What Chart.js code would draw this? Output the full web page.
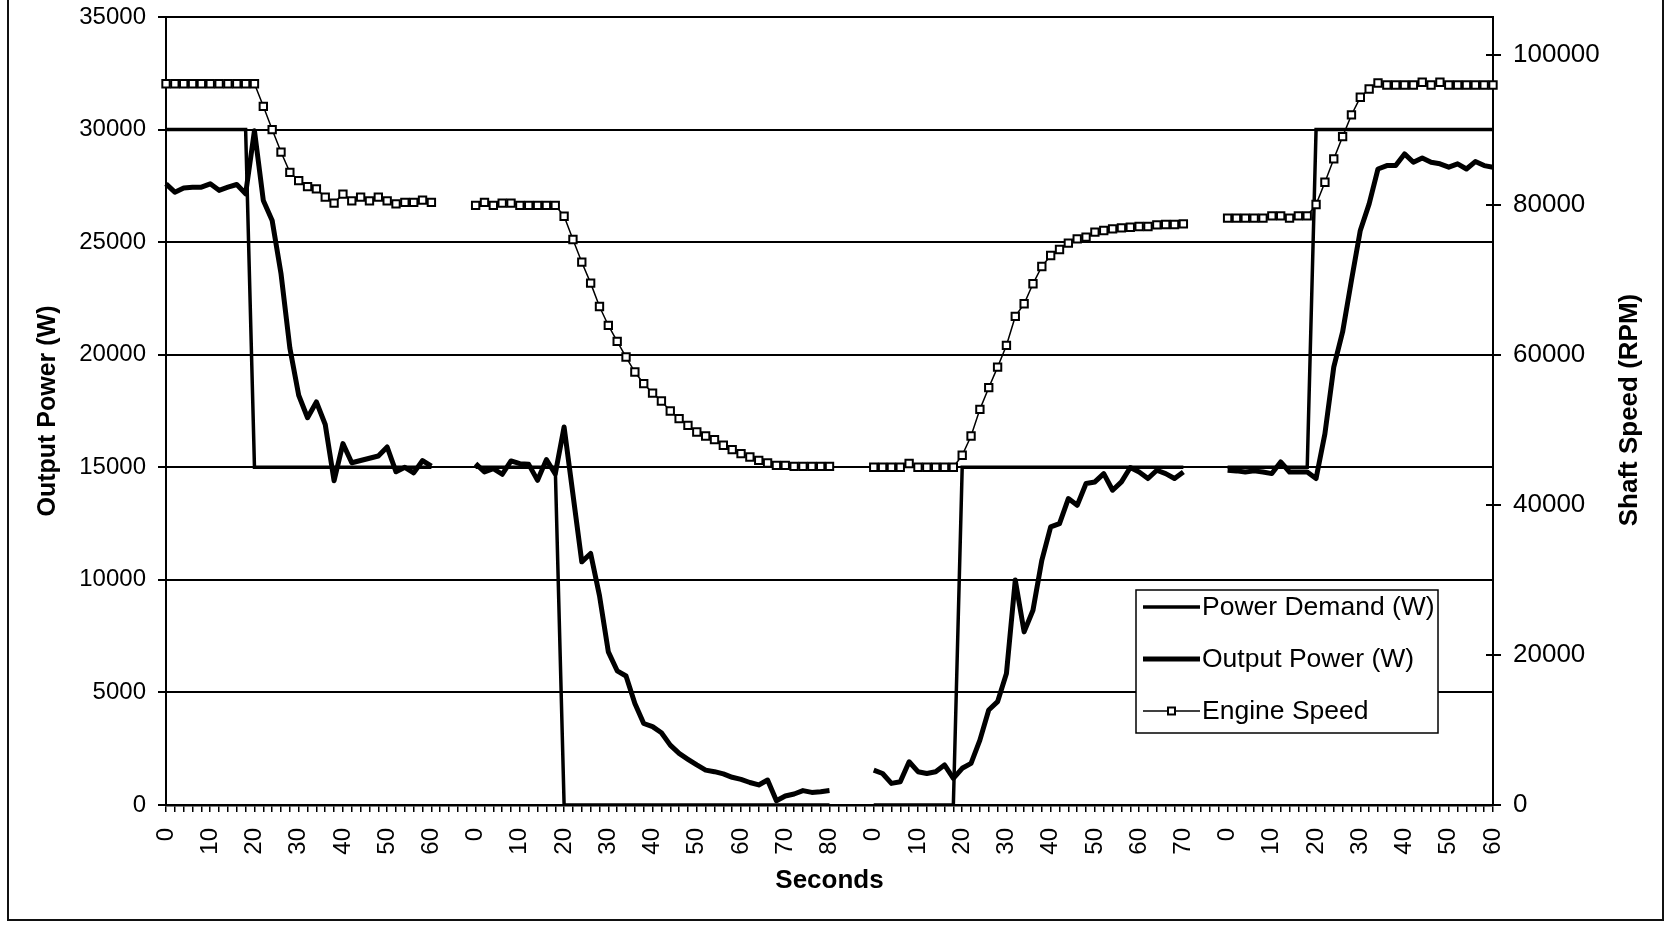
<!DOCTYPE html>
<html>
<head>
<meta charset="utf-8">
<title>Power demand, output power and engine speed</title>
<script src="https://cdn.jsdelivr.net/npm/chart.js@4.4.1/dist/chart.umd.min.js"></script>
<style>
  html, body { margin: 0; padding: 0; background: #fff; }
  #wrap { width: 1672px; height: 927px; }
</style>
</head>
<body>
<div id="wrap"><canvas id="powerChart" width="1672" height="927"></canvas></div>
<script>
// four test runs, sampled every 2 seconds
const seg1Seconds = [0,2,4,6,8,10,12,14,16,18,20,22,24,26,28,30,32,34,36,38,40,42,44,46,48,50,52,54,56,58,60];
const seg1Demand = [30000,30000,30000,30000,30000,30000,30000,30000,30000,30000,15000,15000,15000,15000,15000,15000,15000,15000,15000,15000,15000,15000,15000,15000,15000,15000,15000,15000,15000,15000,15000];
const seg1Output = [27590,27220,27410,27440,27440,27590,27300,27440,27560,27150,29950,26850,25960,23600,20300,18200,17200,17900,16900,14400,16050,15200,15300,15400,15500,15900,14800,15000,14750,15300,15050];
const seg1Speed = [96100,96100,96100,96100,96100,96100,96100,96100,96100,96100,96100,93100,90000,87000,84300,83200,82400,82100,81000,80200,81400,80500,81000,80500,81000,80500,80100,80300,80300,80600,80300];

const seg2Seconds = [0,2,4,6,8,10,12,14,16,18,20,22,24,26,28,30,32,34,36,38,40,42,44,46,48,50,52,54,56,58,60,62,64,66,68,70,72,74,76,78,80];
const seg2Demand = [15000,15000,15000,15000,15000,15000,15000,15000,15000,15000,0,0,0,0,0,0,0,0,0,0,0,0,0,0,0,0,0,0,0,0,0,0,0,0,0,0,0,0,0,0,0];
const seg2Output = [15160,14790,14940,14690,15280,15160,15130,14420,15340,14700,16790,13800,10800,11170,9300,6800,5960,5730,4510,3620,3480,3210,2660,2290,2030,1780,1550,1480,1380,1230,1140,1000,890,1110,190,400,490,640,560,590,640];
const seg2Speed = [79900,80300,79900,80200,80200,79900,79900,79900,79900,79900,78450,75350,72330,69540,66430,63900,61770,59690,57690,56140,54890,53830,52500,51480,50590,49700,49170,48680,47930,47350,46820,46370,45930,45570,45260,45260,45130,45130,45130,45130,45130];

const seg3Seconds = [0,2,4,6,8,10,12,14,16,18,20,22,24,26,28,30,32,34,36,38,40,42,44,46,48,50,52,54,56,58,60,62,64,66,68,70];
const seg3Demand = [0,0,0,0,0,0,0,0,0,0,15000,15000,15000,15000,15000,15000,15000,15000,15000,15000,15000,15000,15000,15000,15000,15000,15000,15000,15000,15000,15000,15000,15000,15000,15000,15000];
const seg3Output = [1550,1400,960,1030,1920,1480,1400,1480,1780,1180,1630,1850,2880,4220,4590,5840,9990,7690,8650,10870,12350,12500,13610,13310,14280,14350,14720,13980,14350,14990,14790,14500,14870,14720,14500,14790];
const seg3Speed = [45000,45000,45000,45000,45500,45000,45000,45000,45000,45000,46600,49170,52720,55610,58350,61240,65100,66790,69450,71760,73220,74020,74860,75440,75660,76330,76550,76770,76900,76990,77080,77080,77300,77350,77350,77440];

const seg4Seconds = [0,2,4,6,8,10,12,14,16,18,20,22,24,26,28,30,32,34,36,38,40,42,44,46,48,50,52,54,56,58,60];
const seg4Demand = [15000,15000,15000,15000,15000,15000,15000,15000,15000,15000,30000,30000,30000,30000,30000,30000,30000,30000,30000,30000,30000,30000,30000,30000,30000,30000,30000,30000,30000,30000,30000];
const seg4Output = [14870,14840,14790,14840,14790,14720,15240,14790,14790,14790,14500,16490,19450,21010,23300,25520,26700,28250,28400,28400,28920,28550,28740,28550,28480,28330,28480,28250,28580,28400,28330];
const seg4Speed = [78200,78200,78200,78200,78200,78500,78500,78200,78500,78500,80010,82980,86090,89060,91950,94300,95410,96210,95940,95940,95940,95940,96300,95940,96300,95940,95940,95940,95940,95940,95940];

const powerTicks = [0, 5000, 10000, 15000, 20000, 25000, 30000, 35000];
const speedTicks = [0, 20000, 40000, 60000, 80000, 100000];

const GAP = 4; // empty categories between runs

const FONT = '"Liberation Sans", Arial, Helvetica, sans-serif';

// join the runs on one category axis, with blank slots between them
function joinRuns(runs) {
    const out = [];
    runs.forEach((run, i) => {
        if (i > 0) {
            for (let k = 0; k < GAP; k++) out.push(null);
        }
        run.forEach(v => out.push(v));
    });
    return out;
}

const seconds = joinRuns([seg1Seconds, seg2Seconds, seg3Seconds, seg4Seconds]);
const demand = joinRuns([seg1Demand, seg2Demand, seg3Demand, seg4Demand]);
const output = joinRuns([seg1Output, seg2Output, seg3Output, seg4Output]);
const speed = joinRuns([seg1Speed, seg2Speed, seg3Speed, seg4Speed]);

// frame, right-hand title, inner ticks of the speed axis and legend box
const extrasPlugin = {
    id: 'extras',
    afterDraw(chart) {
        const ctx = chart.ctx;
        ctx.save();
        ctx.strokeStyle = '#111';
        ctx.lineWidth = 2;
        ctx.beginPath();
        ctx.moveTo(8, 0);
        ctx.lineTo(8, 920);
        ctx.lineTo(1663, 920);
        ctx.lineTo(1663, 0);
        ctx.stroke();

        // speed axis ticks cross the axis line
        const sy = chart.scales.y1;
        ctx.strokeStyle = '#000';
        ctx.lineWidth = 2;
        ctx.beginPath();
        speedTicks.forEach(v => {
            const py = Math.round(sy.getPixelForValue(v));
            ctx.moveTo(sy.left - 7, py);
            ctx.lineTo(sy.left, py);
        });
        ctx.stroke();

        ctx.fillStyle = '#000';
        ctx.font = 'bold 26px ' + FONT;
        ctx.textAlign = 'center';
        ctx.textBaseline = 'middle';
        ctx.translate(1630, 410);
        ctx.rotate(-Math.PI / 2);
        ctx.fillText('Shaft Speed (RPM)', 0, 0);
        ctx.restore();

        // legend
        const box = { x: 1136, y: 590, w: 302, h: 143 };
        ctx.save();
        ctx.fillStyle = '#fff';
        ctx.fillRect(box.x, box.y, box.w, box.h);
        ctx.strokeStyle = '#000';
        ctx.lineWidth = 1.5;
        ctx.strokeRect(box.x, box.y, box.w, box.h);
        ctx.font = '26.5px ' + FONT;
        ctx.textAlign = 'left';
        ctx.textBaseline = 'middle';
        chart.data.datasets.forEach((ds, i) => {
            const y = box.y + 17 + i * 52;
            ctx.strokeStyle = '#000';
            ctx.lineWidth = ds.borderWidth;
            ctx.beginPath();
            ctx.moveTo(box.x + 7, y);
            ctx.lineTo(box.x + 64, y);
            ctx.stroke();
            if (ds.pointRadius > 0) {
                const s = 7;
                ctx.fillStyle = '#fff';
                ctx.fillRect(box.x + 35.5 - s / 2, y - s / 2, s, s);
                ctx.lineWidth = 2;
                ctx.strokeRect(box.x + 35.5 - s / 2, y - s / 2, s, s);
            }
            ctx.fillStyle = '#000';
            ctx.fillText(ds.label, box.x + 66, y + 1);
        });
        ctx.restore();
    }
};

const ctx = document.getElementById('powerChart').getContext('2d');
Chart.defaults.font.family = FONT;
Chart.defaults.color = '#000';

new Chart(ctx, {
    type: 'line',
    data: {
        labels: seconds,
        datasets: [
            {
                label: 'Power Demand (W)',
                data: demand,
                yAxisID: 'y',
                borderColor: '#000',
                borderWidth: 3.5,
                pointRadius: 0,
                tension: 0,
                spanGaps: false,
                order: 2
            },
            {
                label: 'Output Power (W)',
                data: output,
                yAxisID: 'y',
                borderColor: '#000',
                borderWidth: 5,
                pointRadius: 0,
                tension: 0,
                spanGaps: false,
                borderJoinStyle: 'round',
                order: 1
            },
            {
                label: 'Engine Speed',
                data: speed,
                yAxisID: 'y1',
                borderColor: '#000',
                borderWidth: 1.5,
                pointStyle: 'rect',
                pointRadius: 5.2,
                pointBorderWidth: 2,
                pointBackgroundColor: '#fff',
                pointBorderColor: '#000',
                tension: 0,
                spanGaps: false,
                order: 0
            }
        ]
    },
    options: {
        responsive: false,
        animation: false,
        events: [],
        layout: { padding: { top: 17, left: 0, right: 0, bottom: 0 } },
        plugins: {
            legend: { display: false },
            tooltip: { enabled: false }
        },
        scales: {
            x: {
                type: 'category',
                offset: false,
                afterFit: s => { s.height = 122; },
                grid: {
                    display: true,
                    drawOnChartArea: false,
                    drawTicks: true,
                    tickLength: 7,
                    color: '#000',
                    lineWidth: 1.5
                },
                border: { display: true, color: '#000', width: 2.5 },
                ticks: {
                    autoSkip: false,
                    maxRotation: 90,
                    minRotation: 90,
                    padding: 16,
                    font: { size: 24 },
                    callback(value, index) {
                        const s = seconds[index];
                        return (s !== null && s % 10 === 0) ? String(s) : '';
                    }
                },
                title: {
                    display: true,
                    text: 'Seconds',
                    font: { size: 26, weight: 'bold' },
                    padding: { top: 0, bottom: 31 }
                }
            },
            y: {
                position: 'left',
                min: 0,
                max: 35000,
                afterFit: s => { s.width = 166; s.paddingTop = 0; s.paddingBottom = 0; },
                afterBuildTicks: s => { s.ticks = powerTicks.map(v => ({ value: v })); },
                ticks: {
                    padding: 12,
                    font: { size: 24 },
                    callback: v => String(v)
                },
                grid: {
                    color: '#000',
                    lineWidth: 2,
                    drawTicks: true,
                    tickLength: 8
                },
                border: { display: true, color: '#000', width: 2 },
                title: {
                    display: true,
                    text: 'Output Power (W)',
                    font: { size: 25, weight: 'bold' },
                    padding: { top: 33, bottom: 0 }
                }
            },
            y1: {
                position: 'right',
                min: 0,
                max: 105000,
                afterFit: s => { s.width = 179; s.paddingTop = 0; s.paddingBottom = 0; },
                afterBuildTicks: s => { s.ticks = speedTicks.map(v => ({ value: v })); },
                ticks: {
                    padding: 12,
                    font: { size: 26 },
                    callback: v => String(v)
                },
                grid: {
                    drawOnChartArea: false,
                    drawTicks: true,
                    tickLength: 8,
                    color: '#000',
                    lineWidth: 2
                },
                border: { display: true, color: '#000', width: 2 }
            }
        }
    },
    plugins: [extrasPlugin]
});
</script>
</body>
</html>
